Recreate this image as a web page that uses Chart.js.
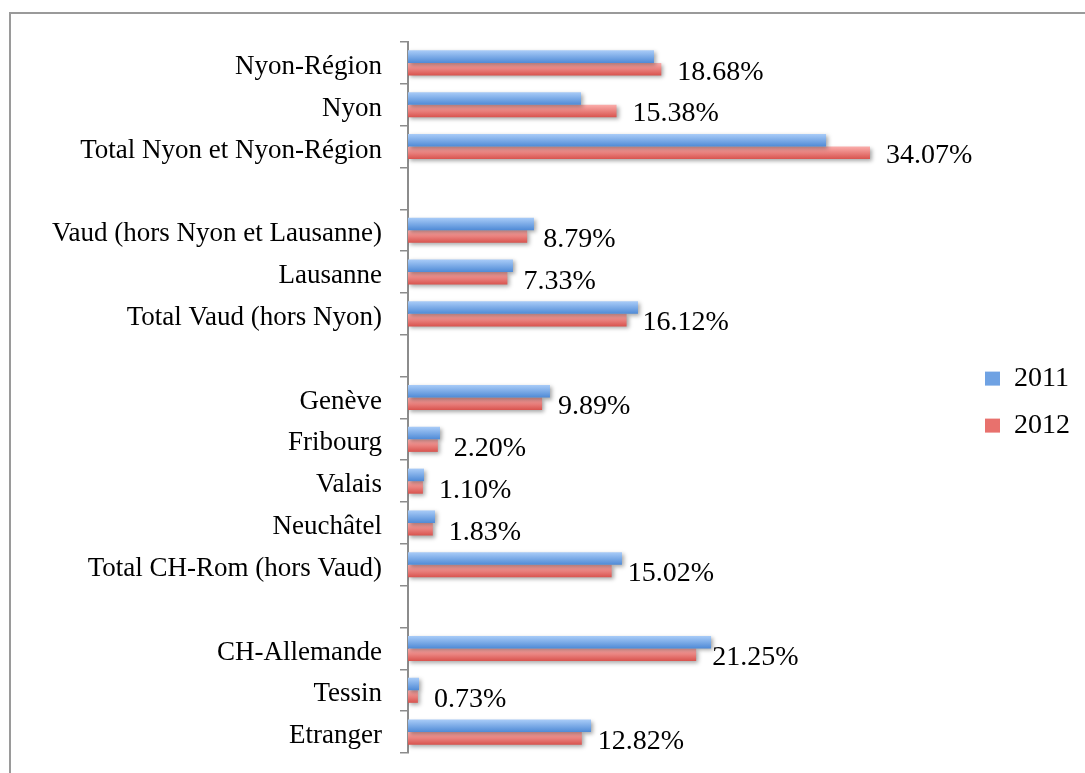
<!DOCTYPE html>
<html>
<head>
<meta charset="utf-8">
<script src="https://cdn.jsdelivr.net/npm/chart.js@4/dist/chart.umd.min.js"></script>
<style>
  html, body { margin: 0; padding: 0; background: #fff; }
  #wrap { position: relative; width: 1085px; height: 773px; overflow: hidden; }
  #frame { position: absolute; left: 9px; top: 12px; width: 1200px; height: 900px;
           border-top: 2px solid #9a9a9a; border-left: 2px solid #9a9a9a; box-sizing: border-box; }
  canvas { position: absolute; left: 0; top: 0; }
</style>
</head>
<body>
<div id="wrap">
  <div id="frame"></div>
  <canvas id="c" width="1085" height="773"></canvas>
</div>
<script>
const categories = [
  'Nyon-Région', 'Nyon', 'Total Nyon et Nyon-Région', '',
  'Vaud (hors Nyon et Lausanne)', 'Lausanne', 'Total Vaud (hors Nyon)', '',
  'Genève', 'Fribourg', 'Valais', 'Neuchâtel', 'Total CH-Rom (hors Vaud)', '',
  'CH-Allemande', 'Tessin', 'Etranger'
];
const series2011 = [18.14, 12.76, 30.83, null, 9.29, 7.74, 16.96, null,
  10.47, 2.36, 1.18, 1.99, 15.78, null, 22.35, 0.81, 13.50];
const series2012 = [18.68, 15.38, 34.07, null, 8.79, 7.33, 16.12, null,
  9.89, 2.20, 1.10, 1.83, 15.02, null, 21.25, 0.73, 12.82];
const seriesNames = ['2011', '2012'];

const FONT = "'Liberation Serif', 'Times New Roman', serif";

function gradFill(top, bottom, dsIndex) {
  return function (ctx) {
    const chart = ctx.chart;
    const ys = chart.scales && chart.scales.y;
    if (ctx.type !== 'data' || !ys) return bottom;
    const c = ys.getPixelForValue(ctx.dataIndex);
    const c1 = ys.getPixelForValue(1), c0 = ys.getPixelForValue(0);
    if (!isFinite(c) || !isFinite(c1) || !isFinite(c0) || c1 === c0) return bottom;
    const h = Math.abs(c1 - c0) * 0.6 / 2;
    const y0 = dsIndex === 0 ? c - h : c;
    const g = chart.ctx.createLinearGradient(0, y0, 0, y0 + h);
    g.addColorStop(0, top);
    g.addColorStop(1, bottom);
    return g;
  };
}

const shadowAndLabels = {
  id: 'shadowAndLabels',
  beforeDatasetsDraw(chart) {
    const ctx = chart.ctx;
    ctx.save();
    ctx.shadowColor = 'rgba(0,0,0,0.35)';
    ctx.shadowBlur = 4;
    ctx.shadowOffsetX = 2;
    ctx.shadowOffsetY = 2;
  },
  afterDatasetsDraw(chart) {
    const ctx = chart.ctx;
    ctx.restore();
    const meta = chart.getDatasetMeta(1);
    const data = chart.data.datasets[1].data;
    ctx.save();
    ctx.font = "28px " + FONT;
    ctx.fillStyle = '#000';
    ctx.textAlign = 'left';
    ctx.textBaseline = 'middle';
    meta.data.forEach((el, i) => {
      const v = data[i];
      if (v === null || v === undefined) return;
      ctx.fillText(v.toFixed(2) + '%', el.x + 16, el.y + 3);
    });
    ctx.restore();
  }
};

new Chart(document.getElementById('c'), {
  type: 'bar',
  data: {
    labels: categories,
    datasets: [
      { label: seriesNames[0], data: series2011,
        backgroundColor: gradFill('#a9ccf8', '#4f8ad6', 0), borderWidth: 0,
        categoryPercentage: 0.6, barPercentage: 1.0 },
      { label: seriesNames[1], data: series2012,
        backgroundColor: gradFill('#fbaeac', '#d8534e', 1), borderWidth: 0,
        categoryPercentage: 0.6, barPercentage: 1.0 }
    ]
  },
  options: {
    indexAxis: 'y',
    responsive: false,
    animation: false,
    layout: { padding: { top: 42, bottom: 20, left: 0, right: 5 } },
    scales: {
      x: { display: false, min: 0, max: 41.15 },
      y: {
        afterFit(scale) { scale.width = 408; scale.paddingTop = 0; scale.paddingBottom = 0; },
        grid: { display: true, drawOnChartArea: false, drawTicks: true, tickLength: 8,
                color: '#8c8c8c', lineWidth: 1.5, offset: true },
        border: { display: true, color: '#8c8c8c', width: 2 },
        ticks: { color: '#000', font: { family: FONT, size: 27 }, padding: 18, labelOffset: 4,
                 autoSkip: false }
      }
    },
    plugins: {
      legend: {
        position: 'right',
        align: 'center',
        title: { display: true, text: ' ', font: { size: 6 }, padding: 1 },
        labels: {
          color: '#000',
          font: { family: FONT, size: 28 },
          boxWidth: 15, boxHeight: 14, padding: 19,
          generateLabels(chart) {
            return chart.data.datasets.map((ds, i) => ({
              text: ds.label,
              fillStyle: i === 0 ? '#6fa2e3' : '#e8716d',
              strokeStyle: 'rgba(0,0,0,0)',
              lineWidth: 0,
              datasetIndex: i,
              fontColor: '#000'
            }));
          }
        }
      },
      tooltip: { enabled: false }
    }
  },
  plugins: [shadowAndLabels]
});
</script>
</body>
</html>
